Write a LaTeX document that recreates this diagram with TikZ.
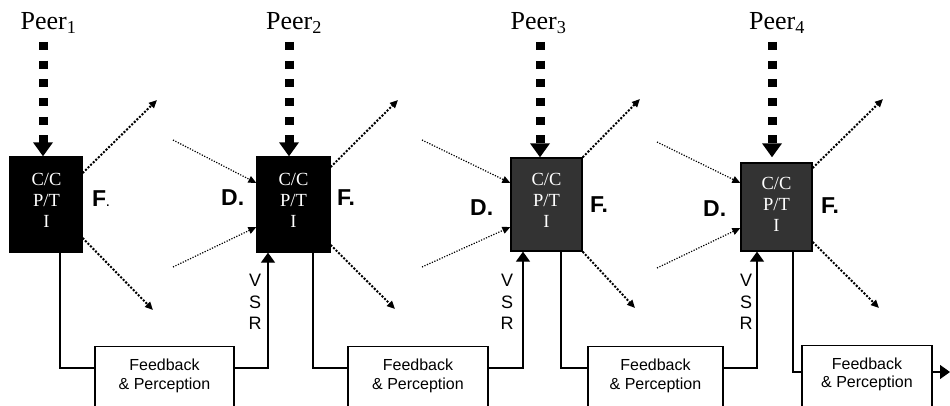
\documentclass[tikz,border=0pt]{standalone}
\usepackage{fontspec}
\setmainfont{Liberation Serif}
\setsansfont{Liberation Sans}
\usetikzlibrary{arrows.meta}
\definecolor{boxdark}{RGB}{51,51,51}
\begin{document}
\begin{tikzpicture}[x=1pt,y=-1pt,
 ccbox/.style={draw=black,line width=1.3pt,inner sep=0pt},
 cctext/.style={text=white,align=center,inner sep=0pt,anchor=north,font=\fontsize{18.5}{21}\selectfont},
 peer/.style={anchor=base,inner sep=0pt,font=\fontsize{26}{30}\selectfont},
 peerarr/.style={line width=9pt,dash pattern=on 8pt off 10.7pt,-{Triangle[length=14pt,width=19pt]}},
 lbl/.style={anchor=base west,inner sep=0pt,font=\sffamily\bfseries\fontsize{23}{26}\selectfont},
 outarr/.style={line width=2pt,dash pattern=on 2pt off 1.6pt,-{Triangle[length=8pt,width=7pt]}},
 inarr/.style={line width=1.2pt,dash pattern=on 1.2pt off 1.5pt,-{Triangle[length=8pt,width=7pt]}},
 fbbox/.style={draw=black,line width=1.3pt,anchor=north,minimum height=80pt,inner sep=0pt},
 fbtext/.style={anchor=north,align=center,inner sep=0pt,font=\sffamily\fontsize{16}{18.3}\selectfont},
 vsr/.style={anchor=north,align=center,inner sep=0pt,font=\sffamily\fontsize{18}{21.5}\selectfont},
 conn/.style={line width=1.3pt},
 connarr/.style={line width=1.3pt,-{Triangle[length=10pt,width=14pt]}}]
\useasboundingbox (0,0) rectangle (950,406);
\fill[white] (0,0) rectangle (950,406);
\clip (0,0) rectangle (950,406);

% peers
\node[peer] (p1) at (48.5,30) {Peer\textsubscript{1}};
\node[peer] (p2) at (294,30) {Peer\textsubscript{2}};
\node[peer] (p3) at (538.5,30) {Peer\textsubscript{3}};
\node[peer] (p4) at (777,30) {Peer\textsubscript{4}};

% boxes
\node[ccbox,fill=black,minimum width=72pt,minimum height=95pt] (b1) at (46,204.5) {};
\node[ccbox,fill=black,minimum width=73pt,minimum height=95pt] (b2) at (293.5,204.5) {};
\node[ccbox,fill=boxdark,minimum width=71pt,minimum height=93pt] (b3) at (546.5,204.5) {};
\node[ccbox,fill=boxdark,minimum width=71pt,minimum height=88pt] (b4) at (776.5,207) {};
\node[cctext] (t1) at (46.5,173.2) {C/C\\P/T\\I};
\node[cctext] (t2) at (293.5,173.2) {C/C\\P/T\\I};
\node[cctext] (t3) at (546.5,173.2) {C/C\\P/T\\I};
\node[cctext] (t4) at (776.5,177.5) {C/C\\P/T\\I};

% peer arrows
\coordinate (s1) at (43,42);
\coordinate (s2) at (289,42);
\coordinate (s3) at (540,42);
\coordinate (s4) at (772,42);
\draw[peerarr] (s1) -- (b1.north -| s1);
\draw[peerarr] (s2) -- (b2.north -| s2);
\draw[peerarr] (s3) -- (b3.north -| s3);
\draw[peerarr,shorten >=5pt] (s4) -- (b4.north -| s4);

% D. / F. labels
\node[lbl] (f1) at (92,207) {F{\fontsize{11}{11}\selectfont.}};
\node[lbl] (d2) at (221,206) {D.};
\node[lbl] (f2) at (337,205) {F.};
\node[lbl] (d3) at (470,215) {D.};
\node[lbl] (f3) at (590,212) {F.};
\node[lbl] (d4) at (703,217) {D.};
\node[lbl] (f4) at (821,214) {F.};

% outgoing dotted arrows
\coordinate (o1a) at (157,100); \coordinate (o1b) at (153,310);
\coordinate (o2a) at (398,100); \coordinate (o2b) at (395,309);
\coordinate (o3a) at (640,99);  \coordinate (o3b) at (635,308);
\coordinate (o4a) at (883,99);  \coordinate (o4b) at (879,308);
\draw[outarr] (b1.east |- 0,173) -- (o1a);
\draw[outarr] (b1.east |- 0,238) -- (o1b);
\draw[outarr] (b2.east |- 0,167) -- (o2a);
\draw[outarr] (b2.east |- 0,245) -- (o2b);
\draw[outarr] (b3.north east) -- (o3a);
\draw[outarr] (b3.south east) -- (o3b);
\draw[outarr] (b4.east |- 0,168) -- (o4a);
\draw[outarr] (b4.east |- 0,242) -- (o4b);

% incoming dotted arrows
\coordinate (i2a) at (173,140); \coordinate (i2b) at (173,267);
\coordinate (i3a) at (422,140); \coordinate (i3b) at (422,267);
\coordinate (i4a) at (657,142); \coordinate (i4b) at (657,268);
\draw[inarr] (i2a) -- (b2.west |- 0,183);
\draw[inarr] (i2b) -- (b2.west |- 0,227);
\draw[inarr] (i3a) -- (b3.west |- 0,183);
\draw[inarr] (i3b) -- (b3.west |- 0,227);
\draw[inarr] (i4a) -- (b4.west |- 0,183);
\draw[inarr] (i4b) -- (b4.west |- 0,228);

% feedback boxes
\node[fbbox,minimum width=139pt] (fb1) at (164.5,346) {};
\node[fbbox,minimum width=140pt] (fb2) at (418,346) {};
\node[fbbox,minimum width=135pt] (fb3) at (655.5,346) {};
\node[fbbox,minimum width=130pt] (fb4) at (867,345) {};
\node[fbtext] (ft1) at (164.5,359) {Feedback\\\& Perception};
\node[fbtext] (ft2) at (418,359) {Feedback\\\& Perception};
\node[fbtext] (ft3) at (655.5,359) {Feedback\\\& Perception};
\node[fbtext] (ft4) at (867,357.5) {Feedback\\\& Perception};

% VSR labels
\node[vsr] (v2) at (255,274.4) {V\\S\\R};
\node[vsr] (v3) at (507,274.4) {V\\S\\R};
\node[vsr] (v4) at (746,274.4) {V\\S\\R};

% solid connectors
\draw[conn] (60,0 |- b1.south) -- (60,368) -- (fb1.west |- 0,368);
\draw[connarr] (fb1.east |- 0,368) -| (b2.south -| 268,0);
\draw[conn] (313,0 |- b2.south) -- (313,368) -- (fb2.west |- 0,368);
\draw[connarr] (fb2.east |- 0,368) -| (b3.south -| 523,0);
\draw[conn] (561,0 |- b3.south) -- (561,368) -- (fb3.west |- 0,368);
\draw[connarr] (fb3.east |- 0,368) -| (b4.south -| 757,0);
\draw[conn] (793,0 |- b4.south) -- (793,372) -- (fb4.west |- 0,372);
\coordinate (out) at (950,372);
\draw[connarr] (fb4.east |- 0,372) -- (out);
\end{tikzpicture}
\end{document}
